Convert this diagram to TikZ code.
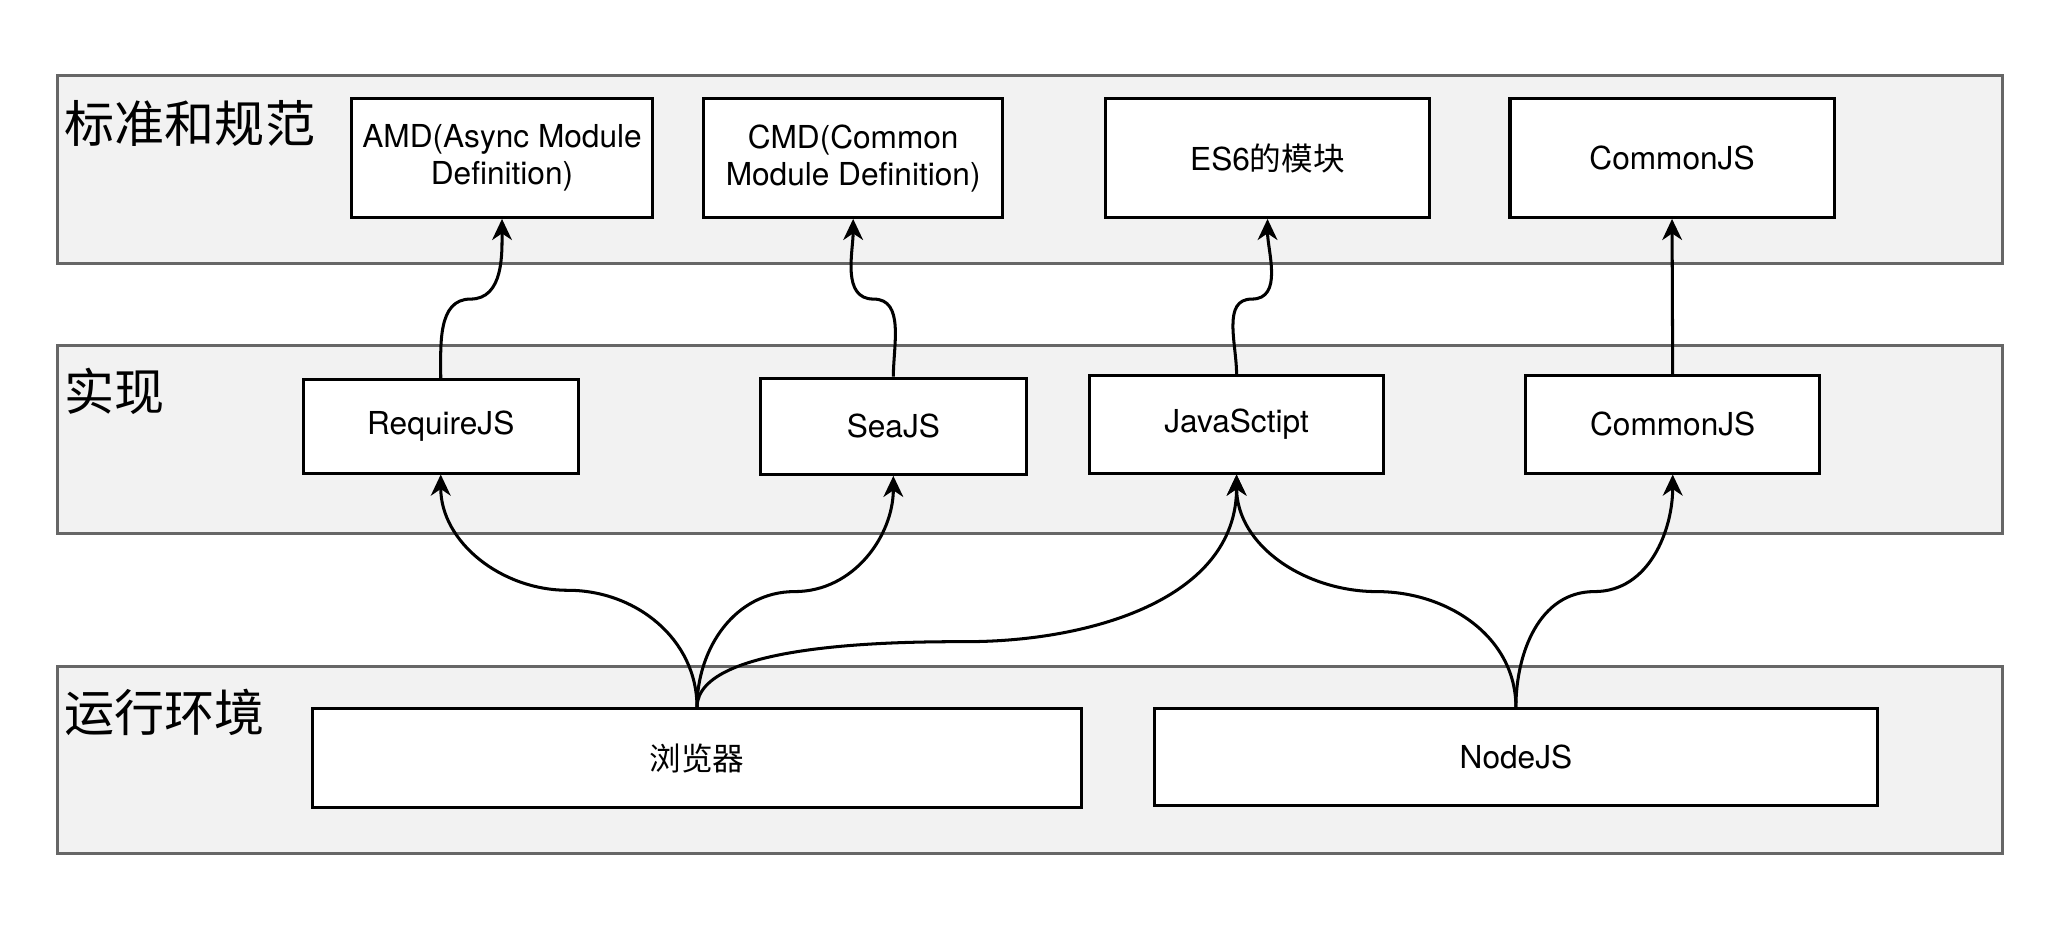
\documentclass[tikz,border=0pt]{standalone}
\usepackage{fontspec}
\setmainfont{TeX Gyre Heros}
\newfontfamily\cjk{Noto Sans CJK SC}
\usetikzlibrary{arrows.meta}

\begin{document}
\begin{tikzpicture}[
  x=0.5pt, y=0.5pt,
  line width=1.15pt,
  band/.style={draw=black!60, fill=black!5, minimum width=738pt, inner sep=0pt},
  box/.style={draw, fill=white, align=center, inner sep=0pt, font=\fontsize{12}{14}\selectfont},
  title/.style={anchor=west, inner sep=0pt, font=\cjk\fontsize{19}{19}\selectfont},
  link/.style={-{Stealth[length=8pt,width=7.5pt,inset=2.5pt]}}]
  \useasboundingbox (0,0) rectangle (1568,707);
  % layers
  \node[band, minimum height=71.5pt] (std) at (782,578.5) {};
  \node[band, minimum height=71.5pt] (impl) at (782,373.5) {};
  \node[band, minimum height=71pt] (env) at (782,130) {};
  \node[title] (stdlabel) at (48,613) {标准和规范};
  \node[title] (impllabel) at (48,410) {实现};
  \node[title] (envlabel) at (48,166) {运行环境};
  % standards
  \node[box, minimum width=114pt, minimum height=45pt] (amd) at (381,587) {AMD(Async Module\\Definition)};
  \node[box, minimum width=113.5pt, minimum height=45pt] (cmd) at (647.5,587) {CMD(Common\\Module Definition)};
  \node[box, minimum width=123pt, minimum height=45pt] (es6) at (962,587) {ES6{\cjk 的模块}};
  \node[box, minimum width=123pt, minimum height=45pt] (cjsstd) at (1269,587) {CommonJS};
  % implementations
  \node[box, minimum width=104.5pt, minimum height=35.5pt] (rjs) at (334.5,383.5) {RequireJS};
  \node[box, minimum width=101pt, minimum height=36.5pt] (sea) at (678,383.5) {SeaJS};
  \node[box, minimum width=111.5pt, minimum height=37pt] (js) at (938.5,385) {JavaSctipt};
  \node[box, minimum width=111.5pt, minimum height=37pt] (cjs) at (1269.5,385) {CommonJS};
  % runtimes
  \node[box, minimum width=292pt, minimum height=37.5pt] (browser) at (529,131.5) {{\cjk 浏览器}};
  \node[box, minimum width=274.5pt, minimum height=36.5pt] (node) at (1150.5,132.5) {NodeJS};
  % implementation -> standard
  \draw[link] (rjs.north) to[out=90,in=180] (357,480) to[out=0,in=-90] (amd.south);
  \draw[link] (sea.north) to[out=90,in=0] (663,480) to[out=180,in=-90] (cmd.south);
  \draw[link] (js.north) to[out=90,in=180] (950,480) to[out=0,in=-90] (es6.south);
  \draw[link] (cjs.north) -- (cjsstd.south);
  % runtime -> implementation
  \draw[link] (browser.north) to[out=90,in=0] (431,259) to[out=180,in=-90] (rjs.south);
  \draw[link] (browser.north) to[out=90,in=180] (603,258) to[out=0,in=-90] (sea.south);
  \draw[link] (browser.north) to[out=90,in=180,looseness=0.6] (733,220) to[out=0,in=-90] (js.south);
  \draw[link] (node.north) to[out=90,in=0] (1045,258) to[out=180,in=-90] (js.south);
  \draw[link] (node.north) to[out=90,in=180] (1210,258) to[out=0,in=-90] (cjs.south);
\end{tikzpicture}
\end{document}
